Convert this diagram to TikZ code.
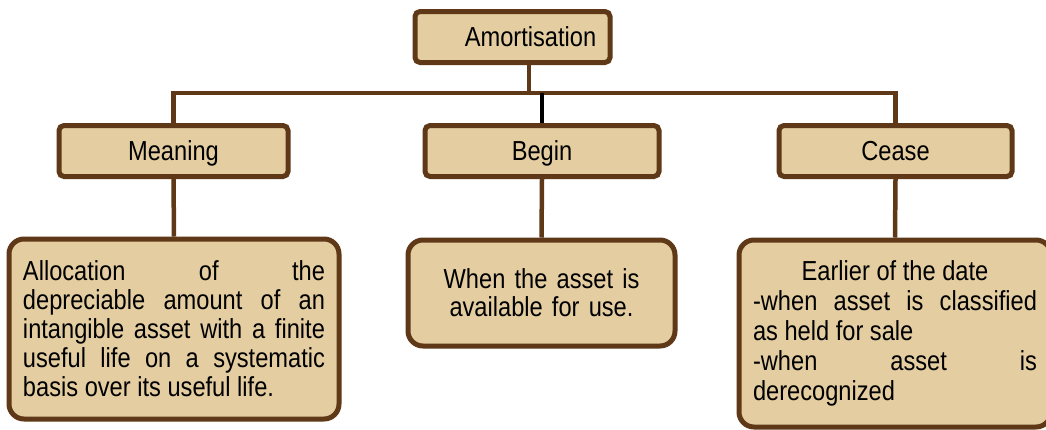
\documentclass[tikz,border=0pt]{standalone}
\usepackage{fontspec}
\setmainfont[FakeStretch=0.86]{Liberation Sans}
\setlength{\parindent}{0pt}
\definecolor{boxfill}{RGB}{227,205,161}
\definecolor{boxline}{RGB}{95,56,24}
\begin{document}
\begin{tikzpicture}[x=1pt,y=-1pt,
  head/.style={draw=boxline, fill=boxfill, line width=5pt, rounded corners=5pt,
    minimum width=229pt, minimum height=51pt, inner sep=0pt,
    text height=22pt, text depth=4pt,
    font=\fontsize{27.5}{29}\selectfont},
  detail/.style={draw=boxline, fill=boxfill, line width=5pt, rounded corners=15pt,
    inner xsep=14pt, inner ysep=0pt, font=\fontsize{27.5}{29}\selectfont},
  conn/.style={draw=boxline, line width=4.5pt},
  blackconn/.style={draw=black, line width=4.5pt}]
\clip (0,0) rectangle (1046,429);
\fill[white] (0,0) rectangle (1046,429);

\node[head, minimum width=195pt] (top) at (512.5,37) {\hspace*{36pt}Amortisation};
\node[head] (meaning) at (173.5,151) {Meaning};
\node[head, minimum width=234pt] (begin) at (542,151) {Begin};
\node[head, minimum width=233pt] (cease) at (895.5,151) {Cease};

\node[detail, text width=302pt, minimum height=180pt, align=justify] (meaningd) at (174,329)
  {Allocation of the\linebreak depreciable amount of an\linebreak intangible asset with a finite\linebreak useful life on a systematic\linebreak basis over its useful life.};
\node[detail, text width=239pt, minimum height=106pt, align=center, font=\fontsize{27.5}{28}\selectfont] (begind) at (541.5,293)
  {When the asset is\\available for use.};
\node[detail, text width=284pt, minimum height=187pt, align=justify, font=\fontsize{27.5}{30}\selectfont] (ceased) at (895,333.5)
  {{\centering Earlier of the date\par}-when asset is classified\linebreak as held for sale\par -when asset is\linebreak derecognized};

\coordinate (bar) at (529,93);
\draw[conn] (top.south -| bar) -- (bar);
\draw[conn] (meaning.north) |- (bar) -| (cease.north);
\draw[blackconn] (begin.north |- bar) -- (begin.north);
\draw[conn] (meaning.south) -- (meaningd.north);
\draw[conn] (begin.south) -- (begind.north);
\draw[conn] (cease.south) -- (ceased.north);
\end{tikzpicture}
\end{document}
